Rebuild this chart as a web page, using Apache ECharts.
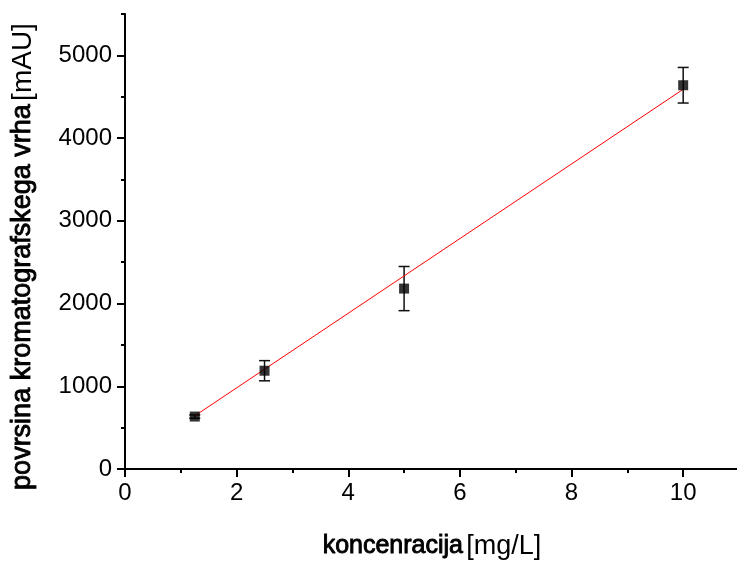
<!DOCTYPE html>
<html><head><meta charset="utf-8">
<script src="https://cdn.jsdelivr.net/npm/echarts@6/dist/echarts.min.js"></script>
<style>html,body{margin:0;padding:0;background:#fff}#c{width:737px;height:563px}</style>
</head><body><div id="c"></div>
<script>
const xValues = [1.25, 2.5, 5, 10];
const yValues = [634, 1188, 2181, 4639];
const yErrors = [20, 122, 267, 215];
const fitX = [1.25, 10];
const fitY = [642, 4590];
const xMajorTicks = [0, 2, 4, 6, 8, 10];
const xMinorTicks = [1, 3, 5, 7, 9, 11];
const yMajorTicks = [0, 1000, 2000, 3000, 4000, 5000];
const yMinorTicks = [500, 1500, 2500, 3500, 4500, 5500];

const FONT = '"Liberation Sans", Arial, sans-serif';
const chart = echarts.init(document.getElementById('c'), null, {renderer: 'canvas'});

const baseX = {type: 'value', min: 0, max: 11, position: 'bottom', splitLine: {show: false}};
const baseY = {type: 'value', min: 0, max: 5500, position: 'left', splitLine: {show: false}};
const plain = v => String(v);

chart.setOption({
  animation: false,
  backgroundColor: '#fff',
  grid: {left: 125, top: 14, width: 614, height: 455, containLabel: false, outerBoundsMode: 'none'},
  xAxis: [
    Object.assign({}, baseX, {
      axisLine: {show: true, onZero: false, lineStyle: {color: '#000', width: 2}},
      axisTick: {show: true, customValues: xMajorTicks, length: 8, inside: false, lineStyle: {color: '#000', width: 2}},
      axisLabel: {show: true, customValues: xMajorTicks, formatter: plain, color: '#000', fontSize: 24, fontFamily: FONT, margin: 12},
      name: '{b|koncenracija} {n|[mg/L]}',
      nameLocation: 'middle',
      nameGap: 64,
      nameTextStyle: {
        rich: {
          b: {fontSize: 25, fontFamily: FONT, color: '#000', textBorderColor: '#000', textBorderWidth: 0.9},
          n: {fontSize: 27, fontFamily: FONT, color: '#000'}
        }
      }
    }),
    Object.assign({}, baseX, {
      axisLine: {show: false},
      axisTick: {show: true, customValues: xMinorTicks, length: 4, inside: false, lineStyle: {color: '#000', width: 2}},
      axisLabel: {show: false}
    })
  ],
  yAxis: [
    Object.assign({}, baseY, {
      axisLine: {show: true, onZero: false, lineStyle: {color: '#000', width: 2}},
      axisTick: {show: true, customValues: yMajorTicks, length: 8, inside: false, lineStyle: {color: '#000', width: 2}},
      axisLabel: {show: true, customValues: yMajorTicks, formatter: plain, color: '#000', fontSize: 24, fontFamily: FONT, margin: 13},
      name: '{b|povrsina kromatografskega vrha} {n|[mAU]}',
      nameLocation: 'middle',
      nameGap: 88,
      nameTextStyle: {
        padding: [0, 30, 0, 0],
        rich: {
          b: {fontSize: 27, fontFamily: FONT, color: '#000', textBorderColor: '#000', textBorderWidth: 0.9},
          n: {fontSize: 28, fontFamily: FONT, color: '#000'}
        }
      }
    }),
    Object.assign({}, baseY, {
      axisLine: {show: false},
      axisTick: {show: true, customValues: yMinorTicks, length: 4, inside: false, lineStyle: {color: '#000', width: 2}},
      axisLabel: {show: false}
    })
  ],
  series: [
    {
      type: 'custom',
      xAxisIndex: 0, yAxisIndex: 0,
      data: xValues.map((x, i) => [x, yValues[i], yErrors[i]]),
      renderItem: function (params, api) {
        const x = api.value(0), y = api.value(1), e = api.value(2);
        const t = api.coord([x, y + e]);
        const b = api.coord([x, y - e]);
        const hw = 5.5;
        const st = {stroke: '#111', lineWidth: 1.5};
        return {type: 'group', children: [
          {type: 'line', shape: {x1: t[0], y1: t[1], x2: b[0], y2: b[1]}, style: st},
          {type: 'line', shape: {x1: t[0] - hw, y1: t[1], x2: t[0] + hw, y2: t[1]}, style: st},
          {type: 'line', shape: {x1: b[0] - hw, y1: b[1], x2: b[0] + hw, y2: b[1]}, style: st}
        ]};
      },
      z: 2
    },
    {
      type: 'line',
      xAxisIndex: 0, yAxisIndex: 0,
      data: fitX.map((x, i) => [x, fitY[i]]),
      showSymbol: false,
      lineStyle: {color: '#ff0000', width: 1},
      z: 3
    },
    {
      type: 'scatter',
      xAxisIndex: 0, yAxisIndex: 0,
      data: xValues.map((x, i) => [x, yValues[i]]),
      symbol: 'rect',
      symbolSize: 10,
      itemStyle: {color: '#000'},
      z: 4
    }
  ]
});
</script>
</body></html>
